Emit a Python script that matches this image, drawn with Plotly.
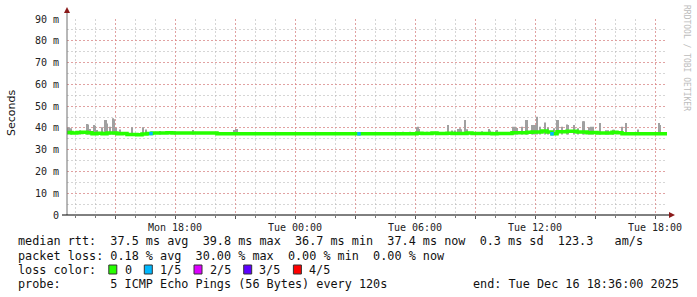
import plotly.graph_objects as go
from datetime import datetime, timedelta

# ---------------- data ----------------
start = datetime(2025, 12, 15, 12, 36)
end = datetime(2025, 12, 16, 18, 36)
bin_minutes = 15

# median rtt (ms) per 15-minute bin (last value = "now")
median_ms = [
    37.9, 37.7, 37.9, 38.0, 37.8, 37.3, 37.5, 37.3, 37.7, 37.6, 37.3, 37.4, 37.0, 37.0, 36.9, 37.2, 37.4, 37.7,
    37.7, 37.7, 37.8, 37.7, 37.7, 37.7, 37.7, 37.7, 37.7, 37.7, 37.7, 37.6,
    37.3, 37.3, 37.3, 37.3, 37.3, 37.3, 37.3, 37.3, 37.3, 37.3, 37.3, 37.3, 37.3, 37.3, 37.3, 37.3, 37.3, 37.3, 37.3, 37.3,
    37.3, 37.3, 37.3, 37.3, 37.3, 37.3, 37.3, 37.3, 37.3, 37.3, 37.3, 37.3, 37.3, 37.3, 37.3, 37.3, 37.3, 37.3, 37.3, 37.3,
    37.5, 37.4, 37.4, 37.6, 37.4, 37.4, 37.5, 37.4, 37.4, 37.4, 37.6, 37.4, 37.4, 37.4, 37.4, 37.3, 37.4, 37.4, 37.4,
    37.8, 37.8, 37.8, 38.0, 38.1, 38.1, 38.6, 38.1, 37.3, 38.2, 38.2, 38.5, 38.4, 38.1, 38.1, 37.8, 37.9, 37.6, 37.6, 37.7, 38.0, 37.8,
    37.3, 37.3, 37.3, 37.3, 37.3, 37.3, 37.3, 37.3, 37.3, 37.4,
]

# smoke spikes: minutes after start, max rtt (ms)
spike_min = [0, 6, 12, 39, 60, 63, 69, 81, 84, 90, 105, 114, 117, 120, 129, 138, 141, 147, 159, 195, 228, 237,
             279, 324, 378, 501, 507, 510,
             1008, 1029, 1050, 1053, 1056, 1080, 1143, 1155, 1164, 1173, 1179, 1182, 1194, 1200, 1245, 1266, 1269, 1287, 1290,
             1338, 1344, 1350, 1365, 1377, 1380, 1395, 1398, 1404, 1410, 1419, 1434, 1443, 1461, 1470, 1473, 1485, 1500, 1503,
             1521, 1533, 1548, 1551, 1566,
             1572, 1578, 1599, 1617, 1623, 1638, 1641, 1665, 1677, 1713, 1776, 1779]
spike_top = [40.0, 40.3, 39.8, 38.9, 41.8, 41.5, 39.5, 41.3, 41.0, 39.0, 40.3, 43.6, 43.6, 42.0, 40.5, 44.4, 44.0, 39.9, 39.3, 40.3, 40.3, 39.3,
             38.6, 38.6, 39.0, 39.0, 39.5, 39.5,
             38.2, 38.2, 40.3, 40.5, 39.5, 38.2, 41.3, 38.8, 38.8, 39.5, 39.8, 39.4, 43.6, 39.4, 38.5, 39.5, 38.8, 38.8, 39.0,
             40.5, 40.5, 40.0, 40.5, 43.6, 43.6, 41.3, 41.3, 41.3, 45.1, 40.5, 42.5, 40.2, 39.8, 43.6, 43.6, 40.5, 41.5, 41.3,
             41.3, 39.8, 43.1, 43.1, 40.3,
             40.5, 40.5, 42.3, 38.9, 38.9, 39.2, 39.2, 40.5, 42.3, 39.3, 42.3, 41.3]
smoke_base = 37.0

# packet loss events: minutes after start, lost pings out of 5
loss_min = [252, 876, 1455]
loss_cnt = [1, 1, 1]
loss_colors = ["#26ff00", "#00b8ff", "#dd00ff", "#5e00ff", "#ff0000"]
loss_labels = ["0", "1/5", "2/5", "3/5", "4/5"]

y_ticks = [0, 10, 20, 30, 40, 50, 60, 70, 80, 90]
y_labels = ["0", "10 m", "20 m", "30 m", "40 m", "50 m", "60 m", "70 m", "80 m", "90 m"]

x_ticks = ["2025-12-15 15:00", "2025-12-15 18:00", "2025-12-15 21:00", "2025-12-16 00:00", "2025-12-16 03:00",
           "2025-12-16 06:00", "2025-12-16 09:00", "2025-12-16 12:00", "2025-12-16 15:00", "2025-12-16 18:00"]
x_labels = ["", "Mon 18:00", "", "Tue 00:00", "", "Tue 06:00", "", "Tue 12:00", "", "Tue 18:00"]

legend_lines = [
    "median rtt:  37.5 ms avg  39.8 ms max  36.7 ms min  37.4 ms now  0.3 ms sd  123.3   am/s",
    "packet loss: 0.18 % avg  30.00 % max  0.00 % min  0.00 % now",
    "loss color:",
    "probe:       5 ICMP Echo Pings (56 Bytes) every 120s",
]
end_text = "end: Tue Dec 16 18:36:00 2025"

# ---------------- figure ----------------
W, H = 697, 297
L, R, T, B = 67, 30, 19, 82
PW, PH = W - L - R, H - T - B
def px(x):
    return (x - L) / PW
def py(y):
    return (T + PH - y) / PH

MONO = "DejaVu Sans Mono"
fig = go.Figure()

med_x = [start + timedelta(minutes=bin_minutes * i) for i in range(len(median_ms))]
sp_x = [start + timedelta(minutes=m) for m in spike_min]
fig.add_trace(go.Bar(x=sp_x, y=[t - smoke_base for t in spike_top], base=smoke_base,
                     width=180000, marker=dict(color="#a0a0a0", line=dict(width=0)),
                     hoverinfo="skip"))
fig.add_trace(go.Scatter(x=med_x, y=median_ms, mode="lines",
                         line=dict(color=loss_colors[0], width=3.5, shape="hv"), hoverinfo="skip"))
lx = [start + timedelta(minutes=m) for m in loss_min]
ly = [median_ms[m // bin_minutes] for m in loss_min]
fig.add_trace(go.Scatter(x=lx, y=ly, mode="markers",
                         marker=dict(symbol="square", size=3.5, color=[loss_colors[c] for c in loss_cnt],
                                     line=dict(width=0)), hoverinfo="skip"))

grid_red = "rgba(235,120,120,0.55)"
grid_grey = "rgba(180,180,180,0.55)"
fig.update_layout(
    width=W, height=H, margin=dict(l=L, r=R, t=T, b=B),
    paper_bgcolor="white", plot_bgcolor="white", showlegend=False,
    font=dict(family=MONO, size=10, color="#222"),
    xaxis=dict(type="date", range=[start, end], tickmode="array", tickvals=x_ticks, ticktext=x_labels,
               showgrid=True, gridcolor=grid_red, griddash="2px,2px", gridwidth=1,
               ticks="outside", ticklen=3, tickcolor="#555", showline=False, zeroline=False,
               tickfont=dict(family=MONO, size=10, color="#222"),
               minor=dict(tickmode="linear", tick0="2025-12-15 13:00", dtick=3600000, showgrid=True,
                          gridcolor=grid_grey, griddash="2px,2px", ticks="outside", ticklen=2, tickcolor="#777")),
    yaxis=dict(range=[0, 90], tickmode="array", tickvals=y_ticks, ticktext=y_labels,
               showgrid=True, gridcolor=grid_red, griddash="2px,2px", gridwidth=1,
               ticks="outside", ticklen=5, tickcolor="rgba(0,0,0,0)", showline=False, zeroline=False,
               tickfont=dict(family=MONO, size=10, color="#222"),
               minor=dict(dtick=5, showgrid=True, gridcolor=grid_grey, griddash="2px,2px")),
)

shapes = []
# axes
shapes.append(dict(type="line", xref="paper", yref="paper", x0=0, x1=0, y0=0, y1=py(11),
                   line=dict(color="#707070", width=1)))
shapes.append(dict(type="line", xref="paper", yref="paper", x0=px(62), x1=px(670), y0=0, y1=0,
                   line=dict(color="#000000", width=1)))
# arrows
shapes.append(dict(type="path", xref="paper", yref="paper",
                   path=f"M {px(64)},{py(13)} L {px(70)},{py(13)} L {px(67)},{py(7)} Z",
                   fillcolor="#8b1a1a", line=dict(width=0)))
shapes.append(dict(type="path", xref="paper", yref="paper",
                   path=f"M {px(669)},{py(212)} L {px(669)},{py(218)} L {px(675)},{py(215)} Z",
                   fillcolor="#8b1a1a", line=dict(width=0)))

annotations = []
nb = lambda s: s.replace(" ", "\u00a0")
row_y = [241, 255.5, 269.5, 284]
for t, yy in zip(legend_lines, row_y):
    annotations.append(dict(text=nb(t), x=px(16), y=py(yy), xref="paper", yref="paper",
                            xanchor="left", yanchor="middle", showarrow=False,
                            font=dict(family=MONO, size=11.8, color="#111")))
annotations.append(dict(text=nb(end_text), x=px(681), y=py(284), xref="paper", yref="paper",
                        xanchor="right", yanchor="middle", showarrow=False,
                        font=dict(family=MONO, size=11.8, color="#111")))
# loss color boxes and labels
cw = 7.1
box_cols = [13, 18, 25, 32, 39]
for col, c, lab in zip(box_cols, loss_colors, loss_labels):
    bx = 16 + col * cw
    shapes.append(dict(type="rect", xref="paper", yref="paper",
                       x0=px(bx + 0.5), x1=px(bx + 8.5), y0=py(274), y1=py(265),
                       fillcolor=c, line=dict(color="#333", width=1)))
    annotations.append(dict(text=lab, x=px(16 + (col + 2) * cw), y=py(269.5), xref="paper", yref="paper",
                            xanchor="left", yanchor="middle", showarrow=False,
                            font=dict(family=MONO, size=11.8, color="#111")))
# axis title
annotations.append(dict(text="Seconds", x=px(11), y=py(113), xref="paper", yref="paper",
                        textangle=-90, showarrow=False, xanchor="center", yanchor="middle",
                        font=dict(family="DejaVu Sans", size=11, color="#111")))
# watermark
annotations.append(dict(text="RRDTOOL / TOBI OETIKER", x=px(687), y=py(58), xref="paper", yref="paper",
                        textangle=90, showarrow=False, xanchor="center", yanchor="middle",
                        font=dict(family=MONO, size=8, color="#bcbcbc")))

fig.update_layout(shapes=shapes, annotations=annotations)
fig.write_html("out.html")
